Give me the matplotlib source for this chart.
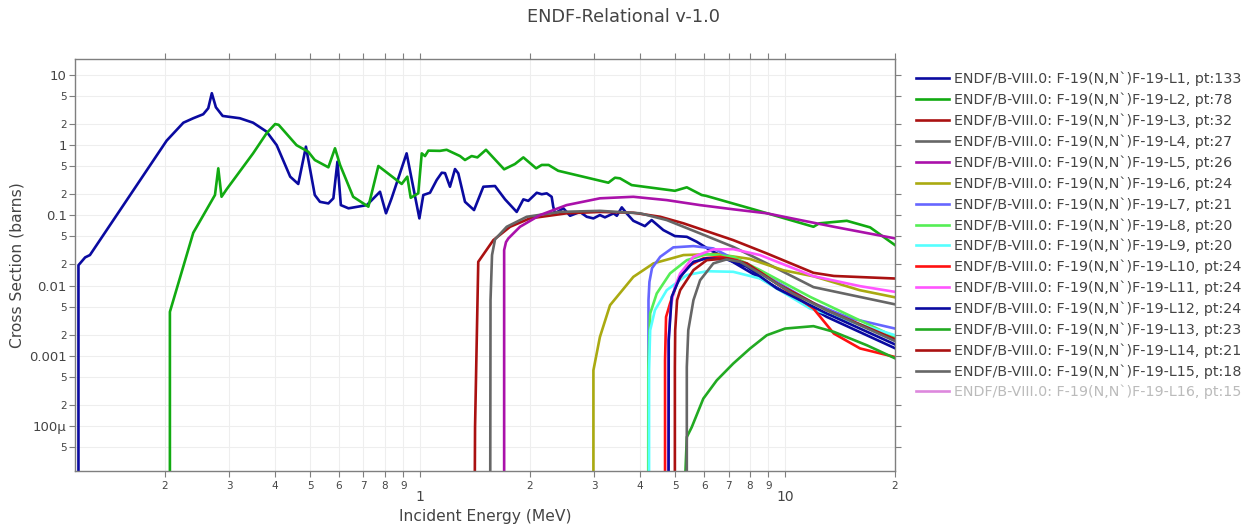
import matplotlib
matplotlib.use("Agg")
import matplotlib.pyplot as plt
from matplotlib.lines import Line2D
from matplotlib.ticker import FixedLocator, FixedFormatter

plt.rcParams['font.family'] = ['DejaVu Sans']

TITLE = "ENDF-Relational v-1.0"
XLABEL = "Incident Energy (MeV)"
YLABEL = "Cross Section (barns)"

LABELS = [
    "ENDF/B-VIII.0: F-19(N,N`)F-19-L1, pt:133",
    "ENDF/B-VIII.0: F-19(N,N`)F-19-L2, pt:78",
    "ENDF/B-VIII.0: F-19(N,N`)F-19-L3, pt:32",
    "ENDF/B-VIII.0: F-19(N,N`)F-19-L4, pt:27",
    "ENDF/B-VIII.0: F-19(N,N`)F-19-L5, pt:26",
    "ENDF/B-VIII.0: F-19(N,N`)F-19-L6, pt:24",
    "ENDF/B-VIII.0: F-19(N,N`)F-19-L7, pt:21",
    "ENDF/B-VIII.0: F-19(N,N`)F-19-L8, pt:20",
    "ENDF/B-VIII.0: F-19(N,N`)F-19-L9, pt:20",
    "ENDF/B-VIII.0: F-19(N,N`)F-19-L10, pt:24",
    "ENDF/B-VIII.0: F-19(N,N`)F-19-L11, pt:24",
    "ENDF/B-VIII.0: F-19(N,N`)F-19-L12, pt:24",
    "ENDF/B-VIII.0: F-19(N,N`)F-19-L13, pt:23",
    "ENDF/B-VIII.0: F-19(N,N`)F-19-L14, pt:21",
    "ENDF/B-VIII.0: F-19(N,N`)F-19-L15, pt:18",
    "ENDF/B-VIII.0: F-19(N,N`)F-19-L16, pt:15",
]
COLORS = ['#0a0aa0', '#11aa11', '#aa1111', '#666666', '#aa11aa', '#aaaa11',
          '#6666ff', '#55ee55', '#55ffff', '#ff1111', '#ff55ff', '#0a0aa0',
          '#22aa22', '#aa1111', '#666666', '#dd88dd']
VISIBLE = [True] * 15 + [False]

# ---- data (MeV, barns) ----
L1_E = [0.116, 0.116, 0.121, 0.1247, 0.2023, 0.2248, 0.2393, 0.2548, 0.263, 0.269, 0.276, 0.288, 0.321,
        0.349, 0.380, 0.405, 0.441, 0.464, 0.487, 0.515, 0.532, 0.561, 0.579, 0.594, 0.607, 0.637, 0.715,
        0.777, 0.807, 0.836, 0.919, 0.996, 1.021, 1.065, 1.111, 1.147, 1.171, 1.208, 1.247, 1.273, 1.328,
        1.406, 1.491, 1.605, 1.710, 1.84, 1.919, 1.98, 2.088, 2.155, 2.224, 2.294, 2.317, 2.343, 2.47,
        2.576, 2.742, 2.862, 2.985, 3.11, 3.21, 3.39, 3.46, 3.57, 3.68, 3.84, 4.13, 4.31, 4.64, 4.99,
        5.38, 5.73, 6.23, 6.92, 8.54, 10.5, 13.0, 20.0]
L1_S = [1e-7, 0.0195, 0.0252, 0.0272, 1.16, 2.09, 2.42, 2.76, 3.36, 5.5, 3.47, 2.61, 2.42,
        2.09, 1.56, 1.0, 0.356, 0.280, 0.953, 0.195, 0.156, 0.148, 0.175, 0.582, 0.140, 0.126, 0.140,
        0.217, 0.107, 0.175, 0.765, 0.0906, 0.195, 0.210, 0.319, 0.405, 0.40, 0.256, 0.457, 0.397, 0.156,
        0.119, 0.256, 0.262, 0.169, 0.112, 0.169, 0.161, 0.210, 0.20, 0.206, 0.184, 0.133, 0.107, 0.126,
        0.0987, 0.112, 0.0955, 0.0906, 0.101, 0.0937, 0.107, 0.0987, 0.130, 0.107, 0.0837, 0.0703, 0.0857,
        0.0617, 0.0507, 0.0495, 0.042, 0.032, 0.0244, 0.0128, 0.0069, 0.00358, 0.00128]

L2_E = [0.2065, 0.2065, 0.2393, 0.2744, 0.2802, 0.286, 0.2953, 0.349, 0.380, 0.401, 0.41, 0.459, 0.494,
        0.515, 0.561, 0.585, 0.604, 0.656, 0.722, 0.769, 0.891, 0.923, 0.943, 0.989, 1.011, 1.032, 1.054,
        1.134, 1.183, 1.287, 1.328, 1.385, 1.436, 1.516, 1.70, 1.82, 1.919, 2.08, 2.155, 2.25, 2.39, 3.28,
        3.42, 3.53, 3.80, 4.99, 5.38, 5.91, 6.07, 8.19, 11.96, 12.4, 14.76, 17.1, 20.0]
L2_S = [1e-7, 0.00422, 0.0565, 0.195, 0.468, 0.184, 0.235, 0.765, 1.48, 2.0, 1.95, 1.0, 0.807,
        0.615, 0.484, 0.904, 0.523, 0.184, 0.133, 0.505, 0.28, 0.356, 0.178, 0.206, 0.765, 0.70, 0.836,
        0.83, 0.86, 0.70, 0.615, 0.70, 0.67, 0.86, 0.453, 0.539, 0.67, 0.468, 0.523, 0.523, 0.432, 0.292,
        0.344, 0.337, 0.27, 0.224, 0.251, 0.195, 0.19, 0.122, 0.0688, 0.077, 0.0837, 0.0674, 0.0377]

L3_E = [1.406, 1.415, 1.444, 1.588, 1.765, 2.0, 2.52, 3.11, 3.84, 4.55, 5.27, 7.21, 8.91, 11.96, 13.6, 20.0]
L3_S = [1e-7, 9.6e-5, 0.0218, 0.0444, 0.0688, 0.0906, 0.107, 0.112, 0.109, 0.0955, 0.077, 0.0444,
        0.0287, 0.0152, 0.0137, 0.0126]

L4_E = [1.555, 1.56, 1.575, 1.605, 1.728, 1.960, 2.418, 3.11, 4.01, 4.74, 5.85, 7.21, 8.91, 11.96, 20.0]
L4_S = [1e-7, 0.0062, 0.0272, 0.0455, 0.0688, 0.0955, 0.112, 0.116, 0.107, 0.0857, 0.0553, 0.0356,
        0.0207, 0.0095, 0.0054]

L5_E = [1.70, 1.70, 1.72, 1.746, 1.879, 2.132, 2.52, 3.11, 3.84, 4.74, 5.85, 7.21, 8.91, 11.0, 13.6, 20.0]
L5_S = [1e-7, 0.032, 0.0416, 0.047, 0.0688, 0.101, 0.140, 0.175, 0.184, 0.165, 0.140, 0.122, 0.107,
        0.0857, 0.0688, 0.047]

L6_E = [2.985, 2.985, 3.11, 3.315, 3.84, 4.36, 5.27, 6.50, 8.0, 9.9, 12.0, 16.0, 20.0]
L6_S = [1e-7, 0.00062, 0.00185, 0.00525, 0.0133, 0.0207, 0.0272, 0.0281, 0.024, 0.0165, 0.0135,
        0.0086, 0.0068]

L7_E = [4.22, 4.225, 4.25, 4.32, 4.55, 4.94, 5.61, 6.36, 8.54, 11.96, 15.07, 20.0]
L7_S = [1e-7, 0.0062, 0.0113, 0.0177, 0.0257, 0.035, 0.0365, 0.0338, 0.0155, 0.0056, 0.00343, 0.00244]

L8_E = [4.215, 4.22, 4.27, 4.45, 4.84, 5.38, 6.10, 7.21, 8.54, 11.71, 20.0]
L8_S = [1e-7, 0.00069, 0.004, 0.0077, 0.0149, 0.023, 0.028, 0.0257, 0.0166, 0.0069, 0.00185]

L9_E = [4.24, 4.24, 4.27, 4.40, 4.74, 5.38, 6.10, 7.21, 8.54, 11.71, 20.0]
L9_S = [1e-7, 0.00062, 0.00231, 0.00446, 0.0086, 0.0141, 0.016, 0.0157, 0.0126, 0.0047, 0.00196]

L10_E = [4.69, 4.69, 4.72, 4.84, 5.05, 5.38, 5.97, 6.64, 7.38, 8.54, 11.96, 13.6, 16.05, 20.0]
L10_S = [1e-7, 0.00086, 0.00357, 0.00556, 0.0107, 0.0185, 0.0244, 0.0257, 0.023, 0.0155, 0.0047,
         0.00207, 0.00127, 0.00096]

L11_E = [4.78, 4.79, 4.87, 4.99, 5.16, 5.61, 6.36, 7.21, 8.54, 11.96, 16.05, 20.0]
L11_S = [1e-7, 0.00166, 0.00525, 0.0096, 0.0149, 0.0257, 0.0327, 0.033, 0.0272, 0.0136, 0.0098, 0.00813]

L12_E = [4.79, 4.80, 4.89, 5.16, 5.61, 6.10, 6.92, 7.86, 9.49, 13.0, 20.0]
L12_S = [1e-7, 0.00166, 0.0069, 0.0133, 0.0218, 0.0244, 0.0236, 0.0185, 0.0091, 0.004, 0.00145]

L13_E = [5.12, 5.38, 5.55, 5.97, 6.50, 7.21, 8.02, 8.91, 10.0, 11.96, 13.6, 16.75, 20.0]
L13_S = [1e-7, 6.95e-5, 9.6e-5, 2.45e-4, 4.47e-4, 7.74e-4, 0.00127, 0.00196, 0.00244, 0.00264,
         0.00219, 0.00141, 0.00092]

L14_E = [4.99, 4.99, 5.0, 5.06, 5.16, 5.61, 6.10, 6.92, 7.86, 9.49, 13.0, 20.0]
L14_S = [1e-7, 0.00069, 0.0023, 0.0062, 0.0086, 0.0166, 0.023, 0.0244, 0.0207, 0.0107, 0.00446, 0.00172]

L15_E = [5.38, 5.38, 5.43, 5.61, 5.85, 6.36, 6.92, 7.53, 8.54, 10.5, 13.0, 20.0]
L15_S = [1e-7, 0.00069, 0.00231, 0.0062, 0.0119, 0.0207, 0.0236, 0.0218, 0.0149, 0.0077, 0.00446, 0.00162]

SERIES = [(L1_E, L1_S), (L2_E, L2_S), (L3_E, L3_S), (L4_E, L4_S), (L5_E, L5_S), (L6_E, L6_S),
          (L7_E, L7_S), (L8_E, L8_S), (L9_E, L9_S), (L10_E, L10_S), (L11_E, L11_S), (L12_E, L12_S),
          (L13_E, L13_S), (L14_E, L14_S), (L15_E, L15_S), ([], [])]

XMAJ = [1, 10]
XMAJ_LAB = ["1", "10"]
XMIN = [0.2, 0.3, 0.4, 0.5, 0.6, 0.7, 0.8, 0.9, 2, 3, 4, 5, 6, 7, 8, 9, 20]
XMIN_LAB = ["2", "3", "4", "5", "6", "7", "8", "9", "2", "3", "4", "5", "6", "7", "8", "9", "2"]
YMAJ = [1e-4, 1e-3, 1e-2, 1e-1, 1, 10]
YMAJ_LAB = ["100μ", "0.001", "0.01", "0.1", "1", "10"]
YMIN = [5e-5, 2e-4, 5e-4, 2e-3, 5e-3, 0.02, 0.05, 0.2, 0.5, 2, 5]
YMIN_LAB = ["5", "2", "5", "2", "5", "2", "5", "2", "5", "2", "5"]

W, H = 1255, 531
fig = plt.figure(figsize=(W / 100, H / 100), dpi=100)
ax = fig.add_axes([75 / W, 1 - 471 / H, (895 - 75) / W, (471 - 59) / H])

TXT = '#444444'
AXC = '#7f7f7f'

handles = []
for (e, s), c, lab, vis in zip(SERIES, COLORS, LABELS, VISIBLE):
    if vis:
        ax.plot(e, s, color=c, lw=1.9, solid_joinstyle='round')
    handles.append(Line2D([0], [0], color=c, lw=1.9))

ax.set_xscale('log')
ax.set_yscale('log')
ax.set_xlim(0.1135, 20)
ax.set_ylim(2.28e-5, 16.9)

ax.xaxis.set_major_locator(FixedLocator(XMAJ))
ax.xaxis.set_major_formatter(FixedFormatter(XMAJ_LAB))
ax.xaxis.set_minor_locator(FixedLocator(XMIN))
ax.xaxis.set_minor_formatter(FixedFormatter(XMIN_LAB))
ax.yaxis.set_major_locator(FixedLocator(YMAJ))
ax.yaxis.set_major_formatter(FixedFormatter(YMAJ_LAB))
ax.yaxis.set_minor_locator(FixedLocator(YMIN))
ax.yaxis.set_minor_formatter(FixedFormatter(YMIN_LAB))

ax.grid(True, which='both', color='#eeeeee', lw=0.8)
ax.set_axisbelow(True)
for sp in ax.spines.values():
    sp.set_color(AXC)
    sp.set_linewidth(1.0)

ax.tick_params(axis='both', which='both', direction='out', length=4, width=0.8, color=AXC,
               labelcolor=TXT, top=True, right=True, labeltop=False, labelright=False)
ax.tick_params(axis='x', which='major', labelsize=10, pad=10)
ax.tick_params(axis='x', which='minor', labelsize=7.5, pad=3)
ax.tick_params(axis='y', which='major', labelsize=9.5, pad=2)
ax.tick_params(axis='y', which='minor', labelsize=7.5, pad=2)

ax.set_xlabel(XLABEL, fontsize=11.2, color=TXT, labelpad=3)
ax.set_ylabel(YLABEL, fontsize=11.2, color=TXT, labelpad=3)
fig.text(0.497, 1 - 17 / H, TITLE, ha='center', va='center', fontsize=12.8, color=TXT)

leg = fig.legend(handles, LABELS, loc='upper left', bbox_to_anchor=(916 / W, 1 - 72 / H),
                 frameon=False, fontsize=10.3, handlelength=2.3, handletextpad=0.35,
                 labelspacing=0.445, borderaxespad=0, borderpad=0)
for t, vis in zip(leg.get_texts(), VISIBLE):
    t.set_color(TXT if vis else '#bbbbbb')

fig.savefig('out.png', dpi=100)
